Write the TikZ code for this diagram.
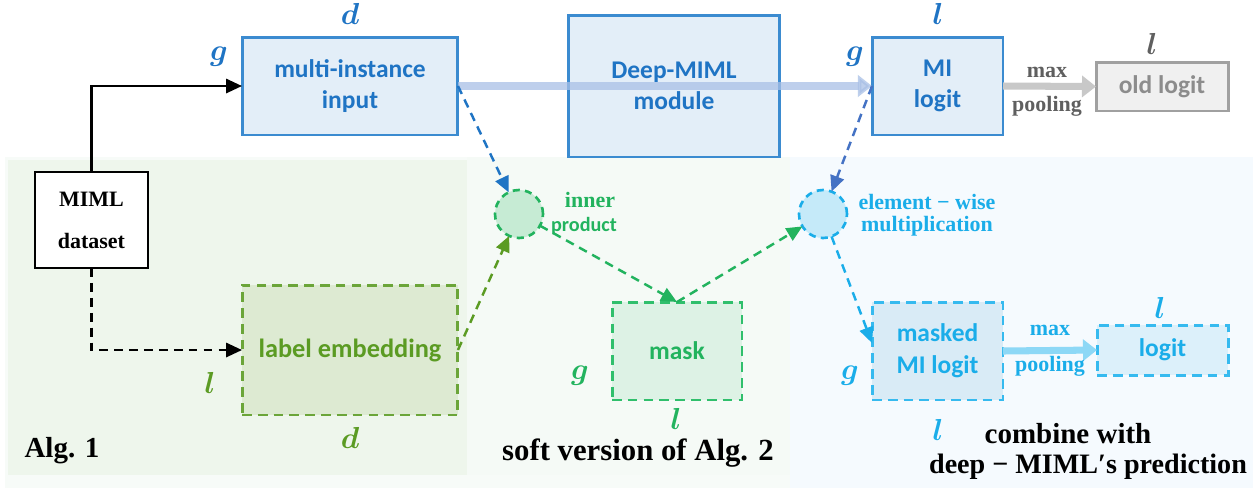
\documentclass[tikz,border=0pt]{standalone}
\usepackage{fontspec}
\setmainfont{Liberation Serif}
\setsansfont{Carlito}
\usetikzlibrary{arrows.meta}
\definecolor{tblue}{HTML}{1F74C4}
\definecolor{lblue}{HTML}{3B8BD0}
\definecolor{fblue}{HTML}{E3EEF8}
\definecolor{ablue}{HTML}{A9C0E6}
\definecolor{dblue}{HTML}{4472C4}
\definecolor{tolive}{HTML}{5B9B23}
\definecolor{lolive}{HTML}{6BA539}
\definecolor{folive}{HTML}{DDEAD2}
\definecolor{tgreen}{HTML}{22B35E}
\definecolor{lgreen}{HTML}{30BF6C}
\definecolor{fgreen}{HTML}{DDF2E5}
\definecolor{cgreen}{HTML}{C6EBD4}
\definecolor{tsky}{HTML}{1AADE9}
\definecolor{lsky}{HTML}{36BAEF}
\definecolor{fsky}{HTML}{D9EBF6}
\definecolor{fsky2}{HTML}{DCF0FA}
\definecolor{csky}{HTML}{C5EAF9}
\definecolor{asky}{HTML}{8DD8F6}
\definecolor{tgray}{HTML}{8C8C8C}
\definecolor{lgray}{HTML}{A0A0A0}
\definecolor{fgray}{HTML}{F0F0F0}
\definecolor{agray}{HTML}{C8C8C8}
\definecolor{pgray}{HTML}{5F5F5F}
\definecolor{bgall}{HTML}{F7FBF8}
\definecolor{bgleft}{HTML}{EEF6EC}
\definecolor{bgmid}{HTML}{F5FAF6}
\definecolor{bgright}{HTML}{F5FAFE}
\begin{document}
\begin{tikzpicture}[x=0.02cm,y=-0.02cm]
\tikzstyle{every node}=[inner sep=0pt,outer sep=0pt]
\tikzstyle{box}=[draw,line width=1.7pt,font=\sffamily\bfseries\fontsize{14.5}{18}\selectfont,align=center]
\tikzstyle{dbox}=[box,dash pattern=on 5.5pt off 3.5pt]
\tikzstyle{dot}=[circle,line width=1.5pt,dash pattern=on 4pt off 3pt,minimum size=0.96cm]
\tikzstyle{dim}=[font=\boldmath\fontsize{17}{19}\selectfont]
\tikzstyle{note}=[font=\bfseries\fontsize{12.5}{14}\selectfont]
\tikzstyle{title}=[anchor=base,font=\bfseries\fontsize{16.5}{19}\selectfont]
\tikzstyle{darr}=[line width=1.4pt,dash pattern=on 5pt off 3.5pt,-{Triangle[length=9pt,width=8pt]}]
\tikzstyle{farr}=[line width=4pt,-{Triangle[length=8pt,width=12pt]}]
% panels
\useasboundingbox (0,0) rectangle (1253,488);
\fill[white] (0,0) rectangle (1253,488);
\fill[bgall] (5,157) rectangle (1253,488);
\fill[bgleft] (8,160) rectangle (467,475);
\fill[bgmid] (467,157) rectangle (790,475);
\fill[bgright] (790,157) rectangle (1253,488);
% top row
\node[box,draw=lblue,fill=fblue,text=tblue,minimum width=4.32cm,minimum height=1.96cm] (mii) at (350,86) {multi-instance\\input};
\node[box,draw=lblue,fill=fblue,text=tblue,minimum width=4.24cm,minimum height=2.84cm] (dm) at (674,86) {Deep-MIML\\module};
\node[box,draw=lblue,fill=fblue,text=tblue,minimum width=2.62cm,minimum height=1.96cm] (mil) at (937.5,86) {MI\\logit};
\node[box,draw=lgray,fill=fgray,text=tgray,minimum width=2.64cm,minimum height=0.98cm] (old) at (1162,86.5) {old logit};
% left column
\node[box,draw=black,fill=white,line width=1.3pt,font=\bfseries\fontsize{12.5}{24}\selectfont,minimum width=2.26cm,minimum height=1.92cm] (ds) at (91.5,220) {MIML\\dataset};
\node[dbox,draw=lolive,fill=folive,text=tolive,font=\sffamily\bfseries\fontsize{15}{18}\selectfont,minimum width=4.32cm,minimum height=2.6cm] (emb) at (350,350) {label embedding};
% bottom row
\node[dbox,draw=lgreen,fill=fgreen,text=tgreen,minimum width=2.6cm,minimum height=1.96cm] (mask) at (677,351) {mask};
\node[dbox,draw=lsky,fill=fsky,text=tsky,minimum width=2.62cm,minimum height=1.96cm] (mml) at (937.5,351) {masked\\MI logit};
\node[dbox,draw=lsky,fill=fsky2,text=tsky,minimum width=2.62cm,minimum height=1.0cm] (lg) at (1162.5,350) {logit};
\node[dot,draw=tgreen,fill=cgreen] (ip) at (519,214) {};
\node[dot,draw=tsky,fill=csky] (ew) at (823,214) {};
% connectors
\draw[line width=1.4pt,-{Triangle[length=9pt,width=8pt]}] (ds.north) |- (mii.west);
\draw[darr,black] (ds.south) |- (emb.west);
\draw[farr,ablue,opacity=0.75] (mii.east) -- (mil.west);
\draw[farr,agray] (mil.east) -- (old.west);
\draw[farr,asky] (mml.east) -- (lg.west);
\draw[darr,tblue] (mii.east) -- (ip);
\draw[darr,tolive] (emb.east) -- (ip);
\draw[darr,tgreen] (ip) -- (mask.north);
\draw[darr,tgreen] (mask.north) -- (ew);
\draw[darr,dblue] (mil.west) -- (ew);
\draw[darr,tsky] (ew) -- ([yshift=0.16cm]mml.west);
% dimension labels
\node[dim,text=tblue] (mii-d) at (350,14) {$d$};
\node[dim,text=tblue] (mii-g) at (219,57) {$g$};
\node[dim,text=tblue] (mil-l) at (938,14) {$l$};
\node[dim,text=tblue] (mil-g) at (855,57) {$g$};
\node[dim,text=pgray] (old-l) at (1152,44) {$l$};
\node[dim,text=tolive] (emb-l) at (210,383) {$l$};
\node[dim,text=tolive] (emb-d) at (350,438) {$d$};
\node[dim,text=tgreen] (mask-g) at (580,376) {$g$};
\node[dim,text=tgreen] (mask-l) at (676,419) {$l$};
\node[dim,text=tsky] (mml-g) at (850,376) {$g$};
\node[dim,text=tsky] (mml-l) at (938,430) {$l$};
\node[dim,text=tsky] (lg-l) at (1160,308) {$l$};
% operation notes
\node[note,text=pgray] (mp1) at (1047,72) {max};
\node[note,text=pgray] (mp1b) at (1047,106) {pooling};
\node[note,text=tsky] (mp2) at (1050,330) {max};
\node[note,text=tsky] (mp2b) at (1050,366) {pooling};
\node[note,text=tgreen] (ipa) at (590,200) {inner};
\node[note,text=tgreen,font=\sffamily\bfseries\fontsize{11.5}{13}\selectfont] (ipb) at (584,226) {product};
\node[note,text=tsky] (ewa) at (927,202) {element − wise};
\node[note,text=tsky] (ewb) at (927,226) {multiplication};
% panel titles
\node[title] (t1) at (62,457) {Alg. 1};
\node[title,font=\bfseries\fontsize{17.5}{20}\selectfont] (t2) at (638,460) {soft version of Alg. 2};
\node[title] (t3) at (1068,443) {combine with};
\node[title,font=\bfseries\fontsize{16}{19}\selectfont] (t3b) at (1088,473) {deep − MIML′s prediction};
\end{tikzpicture}
\end{document}
